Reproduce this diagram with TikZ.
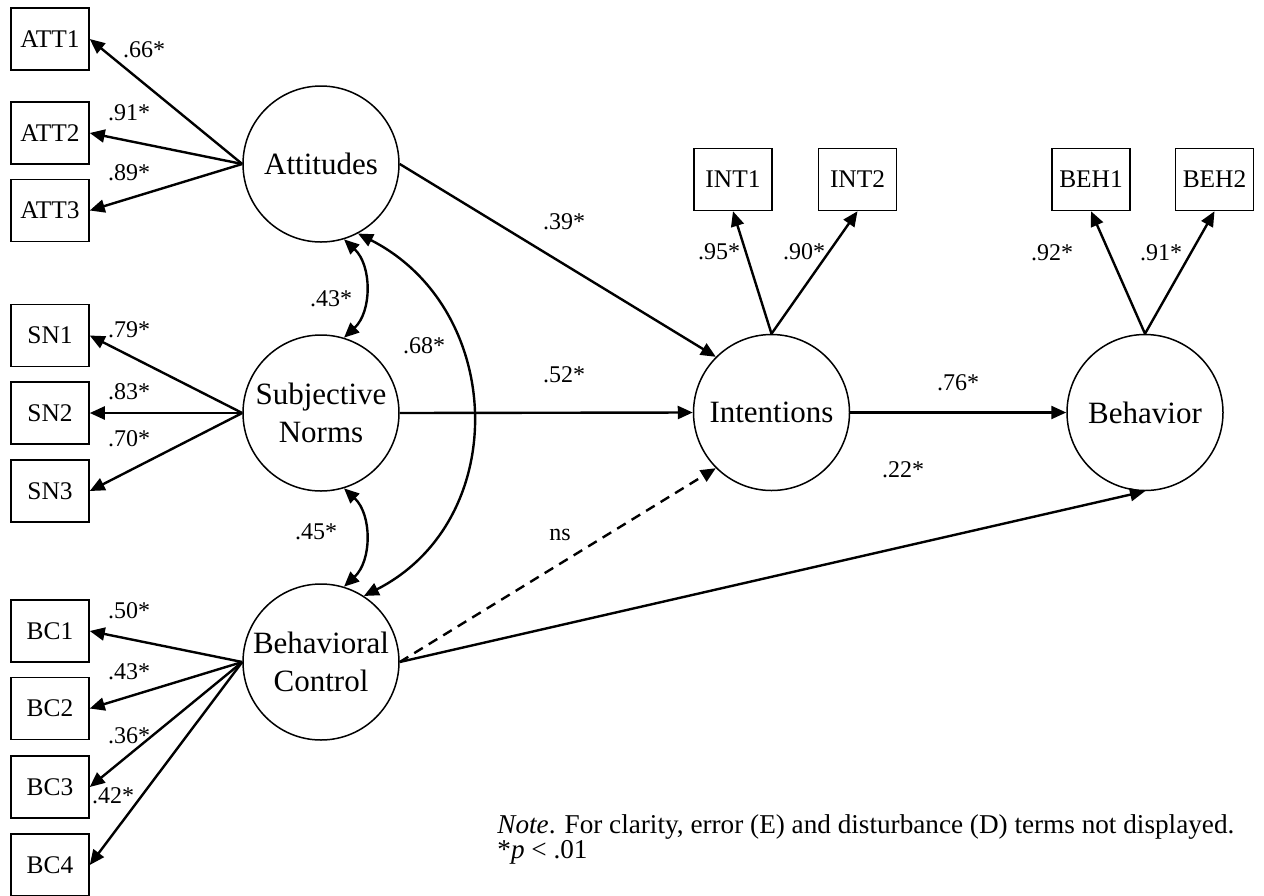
\documentclass[tikz,border=0pt]{standalone}
\usepackage{fontspec}
\setmainfont{Liberation Serif}
\usetikzlibrary{arrows.meta}

\begin{document}
\begin{tikzpicture}[x=0.5pt, y=-0.5pt, >={Triangle[length=7.5pt,width=6.5pt]},
	manifest/.style={draw, line width=0.75pt, minimum width=39pt, minimum height=31pt, inner sep=0pt, font=\fontsize{12.7}{15}\selectfont},
	latent/.style={draw, circle, line width=0.75pt, minimum size=78pt, inner sep=0pt, align=center, font=\fontsize{15.5}{19}\selectfont},
	loading/.style={->, line width=1.2pt},
	regress/.style={->, line width=1.2pt},
	covar/.style={<->, line width=1.2pt},
	coef/.style={inner sep=0pt, font=\fontsize{12}{14}\selectfont}]
		\useasboundingbox (0,0) rectangle (1264,895);
		\node[latent] (Att) at (321,164) {Attitudes};
		\node[latent] (SN) at (321,413) {Subjective\\Norms};
		\node[latent] (BC) at (321,662) {Behavioral\\Control};
		\node[latent] (Int) at (771.5,412.5) {Intentions};
		\node[latent] (Beh) at (1145,412.5) {Behavior};
		\foreach \i/\y/\lx/\ly/\v in {1/39/144/50/.66, 2/133/129/113/.91, 3/210.5/129/173/.89} {
			\node[manifest] (ATT\i) at (50,\y) {ATT\i};
			\draw[loading] (Att.west) -- (ATT\i.east);
			\node[coef] (attc\i) at (\lx,\ly) {\v*};
		}
		\foreach \i/\y/\ly/\v in {1/335.5/330/.79, 2/413/392/.83, 3/491/439/.70} {
			\node[manifest] (SN\i) at (50,\y) {SN\i};
			\draw[loading] (SN.west) -- (SN\i.east);
			\node[coef] (snc\i) at (129,\ly) {\v*};
		}
		\foreach \i/\y/\lx/\ly/\v in {1/631/129/611/.50, 2/708.5/129/672/.43, 3/787/129/736/.36, 4/865/113/796/.42} {
			\node[manifest] (BC\i) at (50,\y) {BC\i};
			\draw[loading] (BC.west) -- (BC\i.east);
			\node[coef] (bcc\i) at (\lx,\ly) {\v*};
		}
		\node[manifest] (INT1) at (733,179.5) {INT1};
		\node[manifest] (INT2) at (857.5,179.5) {INT2};
		\node[manifest] (BEH1) at (1091,179.5) {BEH1};
		\node[manifest] (BEH2) at (1214.5,179.5) {BEH2};
		\draw[loading] (Int.north) -- (INT1.south);
		\draw[loading] (Int.north) -- (INT2.south);
		\draw[loading] (Beh.north) -- (BEH1.south);
		\draw[loading] (Beh.north) -- (BEH2.south);
		\node[coef] (intc1) at (719,252) {.95*};
		\node[coef] (intc2) at (804,252) {.90*};
		\node[coef] (behc1) at (1052,253) {.92*};
		\node[coef] (behc2) at (1161,253) {.91*};
		\draw[regress] (Att.east) -- (Int.north west);
		\draw[regress] (SN.east) -- (Int.west);
		\draw[regress] (Int.east) -- (Beh.west);
		\draw[regress, dash pattern=on 5pt off 3.5pt] (BC.east) -- (Int.south west);
		\draw[regress] (BC.east) -- (Beh.south);
		\node[coef] (b1) at (564,222) {.39*};
		\node[coef] (b2) at (564,375) {.52*};
		\node[coef] (b3) at (958,383) {.76*};
		\node[coef] (b4) at (560,535) {ns};
		\node[coef] (b5) at (903,470) {.22*};
		\draw[covar] (Att.-73) to[out=-43, in=43] (SN.73);
		\draw[covar] (SN.-73) to[out=-43, in=43] (BC.73);
		\draw[covar] (Att.-62) to[out=-27, in=27, looseness=1.17] (BC.57);
		\node[coef] (r1) at (331,299) {.43*};
		\node[coef] (r2) at (316,532) {.45*};
		\node[coef] (r3) at (424,346) {.68*};
		\node[anchor=north west, align=left, inner sep=0pt, font=\fontsize{13.6}{12.8}\selectfont] (note) at (497,814) {\textit{Note}. For clarity, error (E) and disturbance (D) terms not displayed.\\\relax*\textit{p} < .01};
\end{tikzpicture}
\end{document}
